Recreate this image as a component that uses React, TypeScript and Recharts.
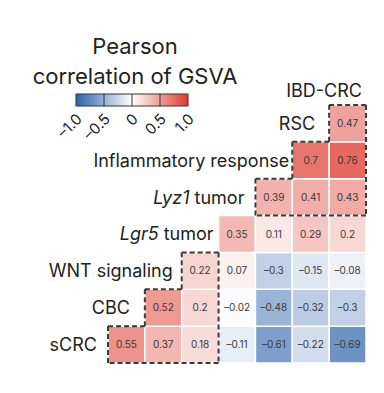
import { ScatterChart, Scatter, XAxis, YAxis, ReferenceArea, ReferenceLine } from 'recharts';

// row labels (bottom to top) and column labels (left to right)
const rowNames = ['sCRC', 'CBC', 'WNT signaling', 'Lgr5 tumor', 'Lyz1 tumor', 'Inflammatory response', 'RSC'];
const colNames = ['CBC', 'WNT signaling', 'Lgr5 tumor', 'Lyz1 tumor', 'Inflammatory response', 'RSC', 'IBD-CRC'];

// each row starts at the diagonal and runs to IBD-CRC
const sCRCValues = [0.55, 0.37, 0.18, -0.11, -0.61, -0.22, -0.69];
const cbcValues = [0.52, 0.2, -0.02, -0.48, -0.32, -0.3];
const wntValues = [0.22, 0.07, -0.3, -0.15, -0.08];
const lgr5Values = [0.35, 0.11, 0.29, 0.2];
const lyz1Values = [0.39, 0.41, 0.43];
const inflammValues = [0.7, 0.76];
const rscValues = [0.47];
const rowValues = [sCRCValues, cbcValues, wntValues, lgr5Values, lyz1Values, inflammValues, rscValues];

const colorTicks = [-1, -0.5, 0, 0.5, 1];

// dashed blocks, as [column, row] corners of the grid
const blockA = [[0, 0], [0, 1], [1, 1], [1, 2], [2, 2], [2, 3], [3, 3], [3, 0], [0, 0]];
const blockB = [[4, 4], [4, 5], [5, 5], [5, 6], [6, 6], [6, 7], [7, 7], [7, 4], [4, 4]];

// label gap to the left of its first cell (px)
const labelGap = [11, 15, 9, 5, 11, 3, 14, 4];

const RED = [222, 58, 44];
const BLUE = [44, 98, 170];

function cellColor(v: number) {
  const t = Math.min(1, Math.abs(v));
  const end = v >= 0 ? RED : BLUE;
  const c = end.map((e) => Math.round(255 + (e - 255) * t));
  return `rgb(${c[0]},${c[1]},${c[2]})`;
}

const fmt = (v: number) => (v < 0 ? '\u2013' + Math.abs(v) : String(v));

const cells = rowValues.flatMap((vals, r) =>
  vals.map((v, i) => ({ x: r + i + 0.5, y: r + 0.5, col: r + i, row: r, v }))
);

const labels = [
  ...rowNames.map((name, r) => ({ x: r, y: r + 0.5, name, i: r, top: false })),
  { x: 7, y: 7, name: colNames[6], i: 7, top: true },
];

function segments(block: number[][]) {
  return block.slice(1).map((p, k) => [
    { x: block[k][0], y: block[k][1] },
    { x: p[0], y: p[1] },
  ]);
}

const FONT = 'Inter, "Noto Sans", sans-serif';

function LabelShape(props: any) {
  const { cx, cy, payload } = props;
  const gap = labelGap[payload.i];
  const parts = payload.name.split(' ');
  const italic = payload.name.endsWith(' tumor');
  return (
    <text
      x={cx - gap}
      y={payload.top ? cy - 14 : cy}
      dy="0.36em"
      textAnchor="end"
      fontSize={18}
      fill="#222"
      fontFamily={FONT}
    >
      {italic ? (
        <>
          <tspan fontStyle="italic">{parts[0]}</tspan>
          <tspan>{' ' + parts.slice(1).join(' ')}</tspan>
        </>
      ) : (
        payload.name
      )}
    </text>
  );
}

function ValueShape(props: any) {
  const { cx, cy, payload } = props;
  return (
    <text x={cx} y={cy} dy="0.35em" textAnchor="middle" fontSize={10} fill="#3a3a3a" fontFamily={FONT}>
      {fmt(payload.v)}
    </text>
  );
}

function ColorBar() {
  const x0 = 76;
  const w = 112;
  const y0 = 94;
  const h = 12;
  const sx = (v: number) => x0 + ((v + 1) / 2) * w;
  return (
    <svg width={384} height={150} style={{ position: 'absolute', left: 0, top: 0, pointerEvents: 'none' }}>
      <defs>
        <linearGradient id="cbar" x1="0" x2="1" y1="0" y2="0">
          <stop offset="0%" stopColor={cellColor(-1)} />
          <stop offset="50%" stopColor="#ffffff" />
          <stop offset="100%" stopColor={cellColor(1)} />
        </linearGradient>
      </defs>
      <text x={135} y={54} textAnchor="middle" fontSize={22} fill="#222" fontFamily={FONT}>
        Pearson
      </text>
      <text x={135} y={84} textAnchor="middle" fontSize={22} fill="#222" fontFamily={FONT}>
        correlation of GSVA
      </text>
      <rect x={x0} y={y0} width={w} height={h} fill="url(#cbar)" stroke="#333" strokeWidth={1} />
      {colorTicks.slice(1, -1).map((t) => (
        <line key={t} x1={sx(t)} x2={sx(t)} y1={y0} y2={y0 + h} stroke="#333" strokeWidth={1} />
      ))}
      {colorTicks.map((t) => (
        <text
          key={t}
          x={sx(t) + 7}
          y={y0 + h + 14}
          textAnchor="end"
          fontSize={15}
          fill="#222"
          fontFamily={FONT}
          transform={`rotate(-45 ${sx(t) + 7} ${y0 + h + 14})`}
        >
          {t === 0 ? '0' : t < 0 ? '\u2013' + Math.abs(t).toFixed(1) : t.toFixed(1)}
        </text>
      ))}
    </svg>
  );
}

export default function App() {
  return (
    <div style={{ position: 'absolute', left: 0, top: 0, width: 384, height: 393, background: '#fff' }}>
      <ScatterChart width={384} height={393} margin={{ top: 105, right: 18, bottom: 30, left: 108 }}>
        <XAxis type="number" dataKey="x" domain={[0, 7]} hide />
        <YAxis type="number" dataKey="y" domain={[0, 7]} hide />
        {cells.map((c) => (
          <ReferenceArea
            key={`cell-${c.row}-${c.col}`}
            x1={c.col}
            x2={c.col + 1}
            y1={c.row}
            y2={c.row + 1}
            fill={cellColor(c.v)}
            fillOpacity={1}
            stroke="#fff"
            strokeWidth={1.5}
            ifOverflow="visible"
          />
        ))}
        {[...segments(blockA), ...segments(blockB)].map((seg, k) => (
          <ReferenceLine
            key={`seg-${k}`}
            segment={seg}
            stroke="#3a3a3a"
            strokeWidth={2}
            strokeDasharray="5 3"
            ifOverflow="visible"
          />
        ))}
        <Scatter data={cells} shape={ValueShape} isAnimationActive={false} />
        <Scatter data={labels} shape={LabelShape} isAnimationActive={false} />
      </ScatterChart>
      <ColorBar />
    </div>
  );
}
